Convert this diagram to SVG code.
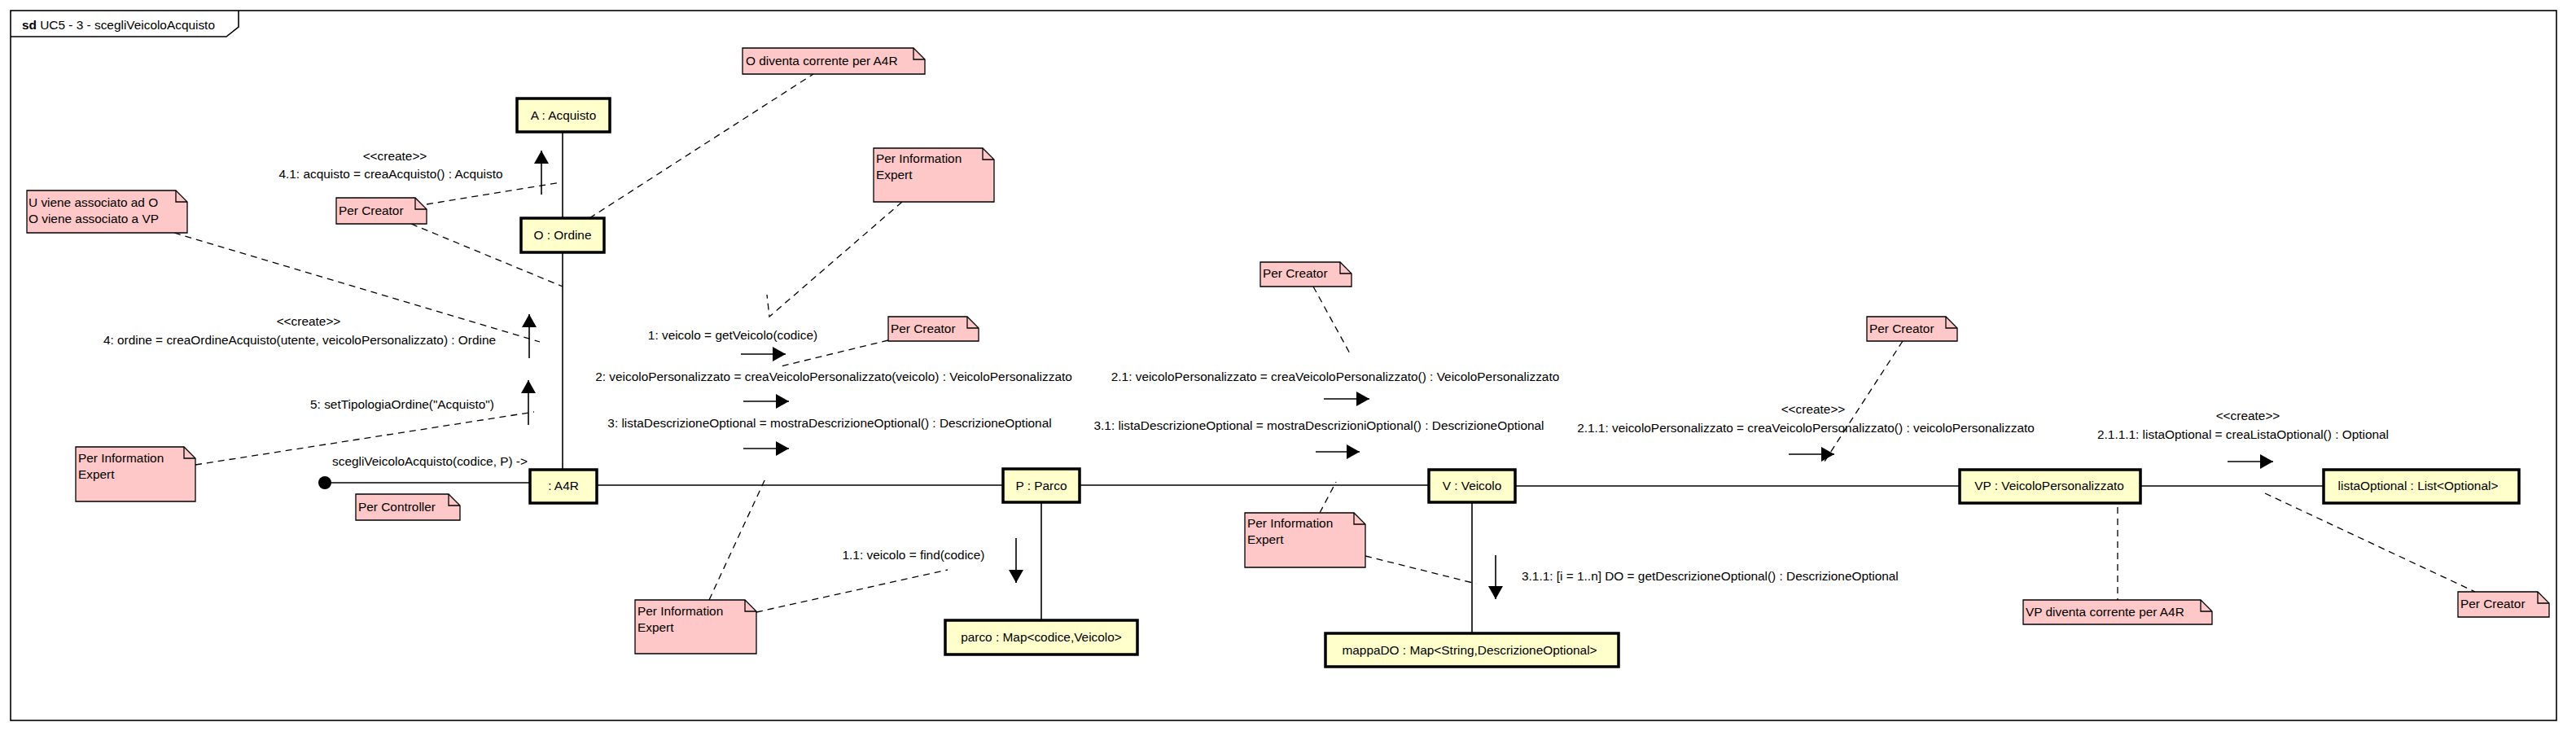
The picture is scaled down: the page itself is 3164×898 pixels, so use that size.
<svg xmlns="http://www.w3.org/2000/svg" width="3164" height="898" viewBox="0 0 3164 898">
<style>
text{font-family:"Liberation Sans",Arial,sans-serif;font-size:15.4px;fill:#000}
.c{text-anchor:middle}
.node rect{fill:#FFFFCC;stroke:#000;stroke-width:3.5}
.note path.b{fill:#FFC8C8;stroke:#000;stroke-width:1.3}
.note path.f{fill:none;stroke:#000;stroke-width:1.3}
.link{stroke:#000;stroke-width:1.6;fill:none}
.msg{stroke:#000;stroke-width:1.6;fill:none}
.dash{stroke:#000;stroke-width:1.3;fill:none;stroke-dasharray:8,6}
</style>
<defs>
<marker id="ah" markerWidth="18" markerHeight="18" refX="16" refY="9" orient="auto" markerUnits="userSpaceOnUse"><path d="M0,0 L16,9 L0,18 Z" fill="#000"/></marker>
</defs>
<rect width="3164" height="898" fill="#fff"/>
<g id="frame">
<rect x="13" y="13" width="3127" height="872" fill="none" stroke="#000" stroke-width="1.6"/>
<path d="M13,45 H278 L293,33 V13" fill="none" stroke="#000" stroke-width="1.6"/>
<text x="27" y="36"><tspan font-weight="bold">sd</tspan> UC5 - 3 - scegliVeicoloAcquisto</text>
</g>
<g id="connectors">
<circle cx="399" cy="593" r="8" fill="#000"/>
<line class="link" x1="399" y1="593" x2="651" y2="593"/>
<line class="link" x1="733" y1="596" x2="1232" y2="596"/>
<line class="link" x1="1326" y1="596" x2="1755" y2="596"/>
<line class="link" x1="1861" y1="597" x2="2407" y2="597"/>
<line class="link" x1="2629" y1="597" x2="2854" y2="597"/>
<line class="link" x1="691" y1="162" x2="691" y2="268"/>
<line class="link" x1="691" y1="310" x2="691" y2="577"/>
<line class="link" x1="1279" y1="617" x2="1279" y2="762"/>
<line class="link" x1="1808" y1="617" x2="1808" y2="778"/>
<line class="msg" x1="665" y1="239" x2="665" y2="185" marker-end="url(#ah)"/>
<line class="msg" x1="650" y1="440" x2="650" y2="386" marker-end="url(#ah)"/>
<line class="msg" x1="649" y1="522" x2="649" y2="467" marker-end="url(#ah)"/>
<line class="msg" x1="910" y1="435" x2="965" y2="435" marker-end="url(#ah)"/>
<line class="msg" x1="913" y1="493" x2="969" y2="493" marker-end="url(#ah)"/>
<line class="msg" x1="913" y1="551" x2="969" y2="551" marker-end="url(#ah)"/>
<line class="msg" x1="1248" y1="661" x2="1248" y2="716" marker-end="url(#ah)"/>
<line class="msg" x1="1626" y1="490" x2="1682" y2="490" marker-end="url(#ah)"/>
<line class="msg" x1="1616" y1="555" x2="1670" y2="555" marker-end="url(#ah)"/>
<line class="msg" x1="1837" y1="682" x2="1837" y2="736" marker-end="url(#ah)"/>
<line class="msg" x1="2197" y1="558" x2="2253" y2="558" marker-end="url(#ah)"/>
<line class="msg" x1="2736" y1="567" x2="2792" y2="567" marker-end="url(#ah)"/>
<text class="c" x="485" y="197">&lt;&lt;create&gt;&gt;</text>
<text class="c" x="480" y="219">4.1: acquisto = creaAcquisto() : Acquisto</text>
<text class="c" x="379" y="400">&lt;&lt;create&gt;&gt;</text>
<text class="c" x="368" y="423">4: ordine = creaOrdineAcquisto(utente, veicoloPersonalizzato) : Ordine</text>
<text class="c" x="494" y="502">5: setTipologiaOrdine("Acquisto")</text>
<text class="c" x="528" y="572">scegliVeicoloAcquisto(codice, P) -&gt;</text>
<text class="c" x="900" y="417">1: veicolo = getVeicolo(codice)</text>
<text class="c" x="1024" y="468">2: veicoloPersonalizzato = creaVeicoloPersonalizzato(veicolo) : VeicoloPersonalizzato</text>
<text class="c" x="1019" y="525">3: listaDescrizioneOptional = mostraDescrizioneOptional() : DescrizioneOptional</text>
<text class="c" x="1122" y="687">1.1: veicolo = find(codice)</text>
<text class="c" x="1640" y="468">2.1: veicoloPersonalizzato = creaVeicoloPersonalizzato() : VeicoloPersonalizzato</text>
<text class="c" x="1620" y="528">3.1: listaDescrizioneOptional = mostraDescrizioniOptional() : DescrizioneOptional</text>
<text x="1869" y="713">3.1.1: [i = 1..n] DO = getDescrizioneOptional() : DescrizioneOptional</text>
<text class="c" x="2227" y="508">&lt;&lt;create&gt;&gt;</text>
<text class="c" x="2218" y="531">2.1.1: veicoloPersonalizzato = creaVeicoloPersonalizzato() : veicoloPersonalizzato</text>
<text class="c" x="2761" y="516">&lt;&lt;create&gt;&gt;</text>
<text class="c" x="2755" y="539">2.1.1.1: listaOptional = creaListaOptional() : Optional</text>
<path class="dash" d="M724,268 L999,91"/>
<path class="dash" d="M524,251 L689,224"/>
<path class="dash" d="M505,275 L691,352"/>
<path class="dash" d="M214,286 L663,420"/>
<path class="dash" d="M240,571 L656,506"/>
<path class="dash" d="M1108,248 L945,389 L942,362"/>
<path class="dash" d="M1091,418 L955,451"/>
<path class="dash" d="M871,737 L941,586"/>
<path class="dash" d="M929,752 L1164,700"/>
<path class="dash" d="M1613,352 L1659,436"/>
<path class="dash" d="M1621,630 L1641,592"/>
<path class="dash" d="M1677,683 L1813,717"/>
<path class="dash" d="M2337,419 L2239,570"/>
<path class="dash" d="M2601,623 L2601,737"/>
<path class="dash" d="M2782,606 L3040,727"/>
</g>
<g id="node-acquisto" class="node"><rect x="635" y="121" width="114" height="41"/><text class="c" x="692" y="147">A : Acquisto</text></g>
<g id="node-ordine" class="node"><rect x="640" y="268" width="102" height="42"/><text class="c" x="691" y="294">O : Ordine</text></g>
<g id="node-a4r" class="node"><rect x="651" y="577" width="82" height="41"/><text class="c" x="692" y="602">: A4R</text></g>
<g id="node-parco" class="node"><rect x="1232" y="576" width="94" height="41"/><text class="c" x="1279" y="602">P : Parco</text></g>
<g id="node-mapparco" class="node"><rect x="1161" y="762" width="236" height="42"/><text class="c" x="1279" y="788">parco : Map&lt;codice,Veicolo&gt;</text></g>
<g id="node-veicolo" class="node"><rect x="1755" y="577" width="106" height="40"/><text class="c" x="1808" y="602">V : Veicolo</text></g>
<g id="node-mappado" class="node"><rect x="1628" y="778" width="360" height="41"/><text class="c" x="1805" y="804">mappaDO : Map&lt;String,DescrizioneOptional&gt;</text></g>
<g id="node-vp" class="node"><rect x="2407" y="577" width="222" height="41"/><text class="c" x="2517" y="602">VP : VeicoloPersonalizzato</text></g>
<g id="node-listaoptional" class="node"><rect x="2854" y="577" width="240" height="41"/><text class="c" x="2970" y="602">listaOptional : List&lt;Optional&gt;</text></g>
<g id="note-o-corrente" class="note"><path class="b" d="M912,59 H1122 L1136,73 V91 H912 Z"/><path class="f" d="M1122,59 V73 H1136"/><text x="916" y="80">O diventa corrente per A4R</text></g>
<g id="note-creator-a" class="note"><path class="b" d="M413,243 H510 L524,257 V275 H413 Z"/><path class="f" d="M510,243 V257 H524"/><text x="416" y="264">Per Creator</text></g>
<g id="note-associato" class="note"><path class="b" d="M33,234 H216 L230,248 V286 H33 Z"/><path class="f" d="M216,234 V248 H230"/><text x="35" y="254">U viene associato ad O</text><text x="35" y="274">O viene associato a VP</text></g>
<g id="note-ie-left" class="note"><path class="b" d="M93,549 H226 L240,563 V616 H93 Z"/><path class="f" d="M226,549 V563 H240"/><text x="96" y="568">Per Information</text><text x="96" y="588">Expert</text></g>
<g id="note-controller" class="note"><path class="b" d="M437,607 H551 L565,621 V639 H437 Z"/><path class="f" d="M551,607 V621 H565"/><text x="440" y="628">Per Controller</text></g>
<g id="note-ie-top" class="note"><path class="b" d="M1073,182 H1207 L1221,196 V248 H1073 Z"/><path class="f" d="M1207,182 V196 H1221"/><text x="1076" y="200">Per Information</text><text x="1076" y="220">Expert</text></g>
<g id="note-creator-vp1" class="note"><path class="b" d="M1091,389 H1188 L1202,403 V419 H1091 Z"/><path class="f" d="M1188,389 V403 H1202"/><text x="1094" y="409">Per Creator</text></g>
<g id="note-ie-low" class="note"><path class="b" d="M780,737 H915 L929,751 V803 H780 Z"/><path class="f" d="M915,737 V751 H929"/><text x="783" y="756">Per Information</text><text x="783" y="776">Expert</text></g>
<g id="note-creator-mid" class="note"><path class="b" d="M1548,322 H1646 L1660,336 V352 H1548 Z"/><path class="f" d="M1646,322 V336 H1660"/><text x="1551" y="341">Per Creator</text></g>
<g id="note-ie-mid" class="note"><path class="b" d="M1529,630 H1663 L1677,644 V697 H1529 Z"/><path class="f" d="M1663,630 V644 H1677"/><text x="1532" y="648">Per Information</text><text x="1532" y="668">Expert</text></g>
<g id="note-creator-rt" class="note"><path class="b" d="M2293,389 H2390 L2404,403 V419 H2293 Z"/><path class="f" d="M2390,389 V403 H2404"/><text x="2296" y="409">Per Creator</text></g>
<g id="note-vp-corrente" class="note"><path class="b" d="M2485,737 H2703 L2717,751 V767 H2485 Z"/><path class="f" d="M2703,737 V751 H2717"/><text x="2488" y="757">VP diventa corrente per A4R</text></g>
<g id="note-creator-fr" class="note"><path class="b" d="M3019,727 H3117 L3131,741 V758 H3019 Z"/><path class="f" d="M3117,727 V741 H3131"/><text x="3022" y="747">Per Creator</text></g>
</svg>
